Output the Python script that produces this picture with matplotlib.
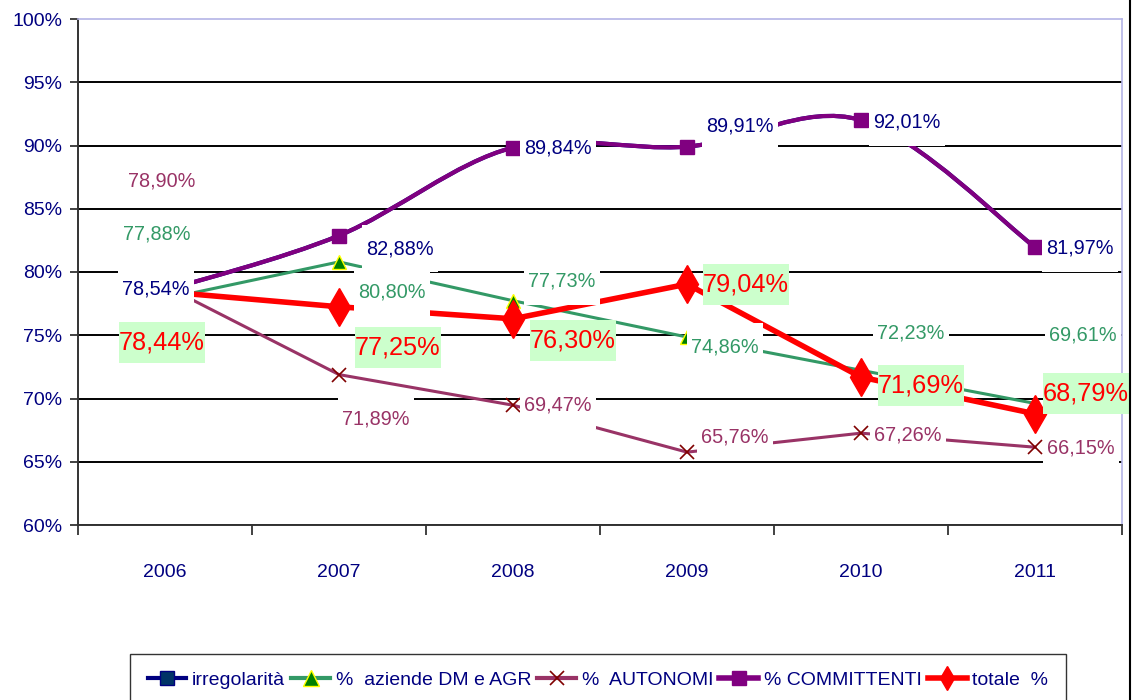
import numpy as np
import matplotlib
matplotlib.use('Agg')
import matplotlib.pyplot as plt
from matplotlib.path import Path
from matplotlib.patches import PathPatch
from matplotlib.lines import Line2D

plt.rcParams['font.family'] = ['Liberation Sans', 'DejaVu Sans']

# data
anni = ['2006', '2007', '2008', '2009', '2010', '2011']
irregolarita = [78.54, 82.88, 89.84, 89.91, 92.01, 81.97]
aziende = [77.88, 80.80, 77.73, 74.86, 72.23, 69.61]
autonomi = [78.90, 71.89, 69.47, 65.76, 67.26, 66.15]
committenti = [78.54, 82.88, 89.84, 89.91, 92.01, 81.97]
totale = [78.44, 77.25, 76.30, 79.04, 71.69, 68.79]
y_ticks = [60, 65, 70, 75, 80, 85, 90, 95, 100]
legend_labels = ['irregolarità', '%  aziende DM e AGR', '%  AUTONOMI', '% COMMITTENTI', 'totale  %']

NAVY = '#000080'
GREEN = '#339966'
MAUVE = '#993366'
PURPLE = '#800080'
RED = '#ff0000'
LAVENDER = '#b4b4e6'

# label offsets in pixels from each point (dx, dy)
off_navy = [(-9, 1), (61, -13), (45, 0), (53, 21), (46, -2), (45, -1)]
off_green = [(-8, 65), (53, -30), (49, 20), (38, -10), (50, 37), (48, 68)]
off_mauve = [(-3, 105), (37, -44), (45, 0), (48, 15), (47, -2), (46, -1)]
off_red = [(-3, -51), (59, -41), (60, -22), (59, 0), (60, -8), (51, 20)]


def fmt(v):
    return ('%.2f%%' % v).replace('.', ',')


def label_box(padx, pady):
    def style(x0, y0, width, height, mutation_size):
        px = padx * mutation_size
        py = pady * mutation_size
        a, b = x0 - px, y0 - py
        c, d = x0 + width + px, y0 + height + py
        return Path([(a, b), (c, b), (c, d), (a, d), (a, b)], closed=True)
    return style


def smooth_path(xs, ys):
    # bezier segments like a spreadsheet "smoothed line"
    pts = np.column_stack([xs, ys]).astype(float)
    n = len(pts)
    verts = [pts[0]]
    codes = [Path.MOVETO]
    for i in range(n - 1):
        p0 = pts[max(i - 1, 0)]
        p1 = pts[i]
        p2 = pts[i + 1]
        p3 = pts[min(i + 2, n - 1)]
        verts += [p1 + (p2 - p0) / 6, p2 - (p3 - p1) / 6, p2]
        codes += [Path.CURVE4] * 3
    return Path(verts, codes)


x = np.arange(len(anni))

fig = plt.figure(figsize=(11.34, 7), dpi=100)
ax = fig.add_axes([78 / 1134, 175 / 700, 1044 / 1134, 506 / 700])
ax.set_xlim(-0.5, len(anni) - 0.5)
ax.set_ylim(60, 100)

# series
ax.add_patch(PathPatch(smooth_path(x, irregolarita), fill=False, color=NAVY, lw=3, zorder=2))
ax.plot(x, irregolarita, ls='none', marker='s', ms=9, mfc='#003366', mec=NAVY, zorder=2)
ax.plot(x, aziende, color=GREEN, lw=2.2, marker='^', ms=10, mfc='#008000', mec='#ffff00', mew=1, zorder=3)
ax.plot(x, autonomi, color=MAUVE, lw=2.2, marker='x', ms=10, mec='#800000', mew=1.2, zorder=3)
ax.add_patch(PathPatch(smooth_path(x, committenti), fill=False, color=PURPLE, lw=3, zorder=4))
ax.plot(x, committenti, ls='none', marker='s', ms=10, mfc=PURPLE, mec=PURPLE, zorder=4)
ax.plot(x, totale, color=RED, lw=4, marker='d', ms=19, mfc=RED, mec=RED, zorder=5)

# data labels
white = dict(boxstyle=label_box(0.2, 0.72), fc='white', ec='none')
green_bg = dict(boxstyle=label_box(0.0, 0.33), fc='#ccffcc', ec='none')
for vals, offs, col in [(irregolarita, off_navy, NAVY), (aziende, off_green, GREEN),
                        (autonomi, off_mauve, MAUVE)]:
    for xi, v, (dx, dy) in zip(x, vals, offs):
        ax.annotate(fmt(v), (xi, v), xytext=(dx, dy), textcoords='offset pixels',
                    ha='center', va='center', fontsize=14.3, color=col, bbox=white, zorder=6)
for xi, v, (dx, dy) in zip(x, totale, off_red):
    ax.annotate(fmt(v), (xi, v), xytext=(dx, dy), textcoords='offset pixels',
                ha='center', va='center', fontsize=18.3, color=RED, bbox=green_bg, zorder=7)

# axes
ax.set_yticks(y_ticks)
ax.set_yticklabels(['%d%%' % t for t in y_ticks])
ax.grid(axis='y', color='black', lw=1.4, zorder=1)
ax.get_ygridlines()[-1].set_visible(False)
ax.set_axisbelow(True)
ax.set_xticks(x)
ax.set_xticklabels(anni)
ax.set_xticks(np.arange(len(anni) + 1) - 0.5, minor=True)
ax.tick_params(axis='x', which='major', length=0, pad=28, labelsize=14, labelcolor=NAVY)
ax.tick_params(axis='x', which='minor', length=7, width=1.3, color='#333333')
ax.tick_params(axis='y', length=6, width=1.3, color='#333333', pad=5.5, labelsize=14, labelcolor=NAVY)
for s in ['left', 'bottom']:
    ax.spines[s].set_color('#333333')
    ax.spines[s].set_linewidth(1.4)
for s in ['top', 'right']:
    ax.spines[s].set_color(LAVENDER)
    ax.spines[s].set_linewidth(1.2)

# legend
handles = [
    Line2D([], [], color=NAVY, lw=3, marker='s', ms=10, mfc='#003366', mec=NAVY),
    Line2D([], [], color=GREEN, lw=3, marker='^', ms=11, mfc='#008000', mec='#ffff00'),
    Line2D([], [], color=MAUVE, lw=3, marker='x', ms=10, mec='#800000', mew=1.2),
    Line2D([], [], color=PURPLE, lw=4, marker='s', ms=10, mfc=PURPLE, mec=PURPLE),
    Line2D([], [], color=RED, lw=4, marker='d', ms=12, mfc=RED, mec=RED),
]
fig.legend(handles, legend_labels, loc='upper left', bbox_to_anchor=(130 / 1134, 1 - 654 / 700),
           ncol=5, frameon=True, fancybox=False, edgecolor='black', fontsize=14,
           labelcolor=NAVY, handlelength=2.0, handletextpad=0.3, columnspacing=0.3,
           borderpad=0.9, borderaxespad=0)

fig.add_artist(Line2D([1130 / 1134] * 2, [0, 1], transform=fig.transFigure, color='black', lw=1.5))

fig.savefig('out.png', dpi=100)
